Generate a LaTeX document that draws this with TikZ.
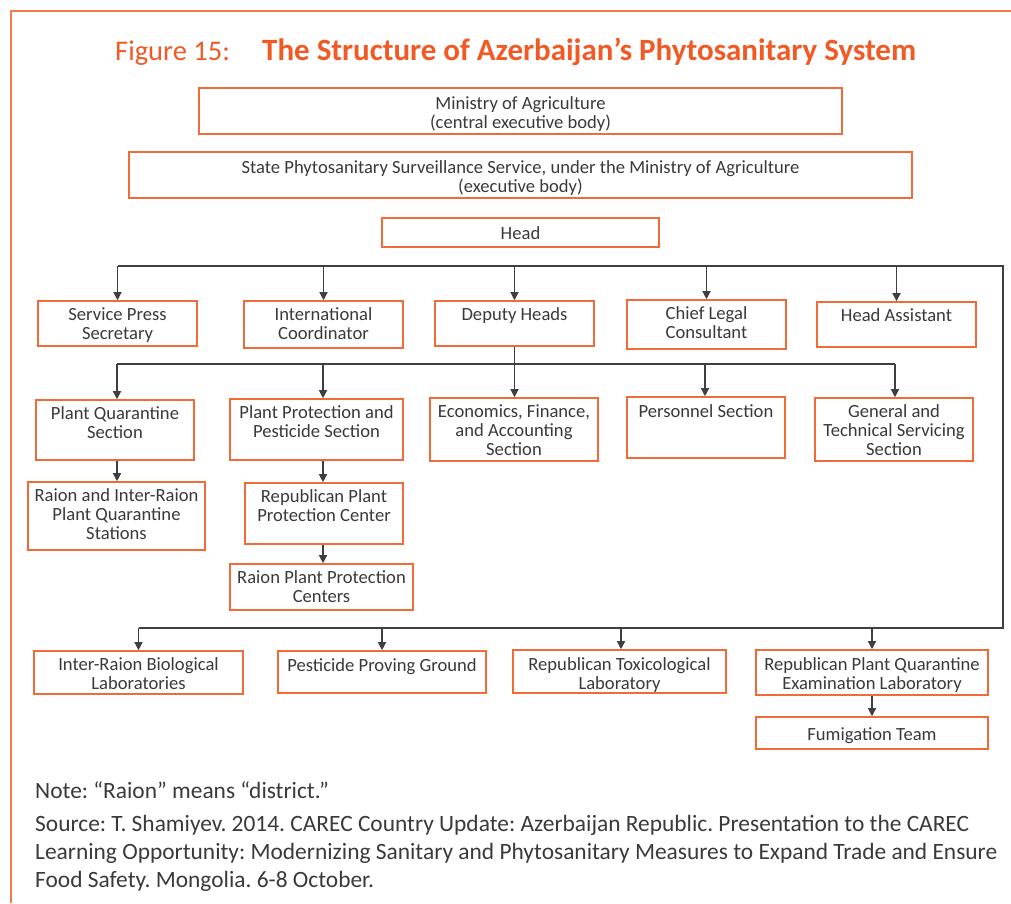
\documentclass[tikz,border=0pt]{standalone}
\usepackage{fontspec}
\setmainfont{Carlito}
\usetikzlibrary{arrows.meta}
\frenchspacing
\definecolor{orng}{HTML}{F26A35}
\definecolor{frm}{HTML}{F47B4B}
\definecolor{ttl}{HTML}{F15A24}
\definecolor{txt}{HTML}{3A3A3A}
\definecolor{ln}{HTML}{3F3F3F}
\newcommand\obox[7]{%
  \node[box,minimum width={(#4-#2)*1pt},minimum height={(#5-#3)*1pt}] (#1) at ({(#2+#4)/2},{(#3+#5)/2}) {};
  \node[btxt,anchor=north] (#1t) at ([yshift=-#6pt]#1.north) {#7};}
\begin{document}
\begin{tikzpicture}[x=1pt,y=-1pt,
  box/.style={draw=orng,line width=1.6pt,inner sep=0pt},
  btxt/.style={font=\fontsize{18.6}{19}\selectfont,text=txt,align=center,inner sep=0pt},
  link/.style={draw=ln,line width=1.3pt},
  arr/.style={link,-{Triangle[length=8pt,width=8pt]}},
  frame/.style={draw=frm,line width=1.5pt},
  note/.style={font=\fontsize{23.4}{28}\selectfont,text=txt,inner sep=0pt,anchor=base west}]
\useasboundingbox (0,0) rectangle (1011,903);
\fill[white] (0,0) rectangle (1011,903);
\draw[frame] (11,903) -- (11,11) -- (1011,11);
% title
\node[font=\fontsize{28.5}{30}\selectfont,text=ttl,inner sep=0pt,anchor=base west] (fig) at (115,60) {Figure 15:};
\node[font=\fontsize{31}{33}\selectfont\bfseries,text=ttl,inner sep=0pt,anchor=base west] (title) at (262,60) {The Structure of Azerbaijan’s Phytosanitary System};
% top boxes
\obox{min}{199}{88}{842}{134}{9.5}{Ministry of Agriculture\\(central executive body)}
\obox{state}{129}{152}{912}{198}{9.5}{State Phytosanitary Surveillance Service, under the Ministry of Agriculture\\(executive body)}
\obox{head}{382}{218}{659}{247}{9.5}{Head}
% row 2
\obox{sps}{38}{301}{197}{346}{7.5}{Service Press\\Secretary}
\obox{ic}{244}{301}{403}{348}{7.5}{International\\Coordinator}
\obox{dh}{435}{301}{594}{346}{7.5}{Deputy Heads}
\obox{clc}{627}{300}{786}{349}{7.5}{Chief Legal\\Consultant}
\obox{ha}{817}{302}{976}{347}{7.5}{Head Assistant}
% row 3
\obox{pqs}{36}{400}{194}{460}{7.5}{Plant Quarantine\\Section}
\obox{pps}{230}{399}{403}{460}{7}{Plant Protection and\\Pesticide Section}
\obox{efa}{430}{398}{598}{461}{7.5}{Economics, Finance,\\and Accounting\\Section}
\obox{ps}{627}{397}{785}{458}{8.5}{Personnel Section}
\obox{gts}{815}{398}{973}{461}{7.5}{General and\\Technical Servicing\\Section}
% row 4
\obox{rips}{28}{482}{205}{550}{7.5}{Raion and Inter-Raion\\Plant Quarantine\\Stations}
\obox{rppc}{245}{483}{403}{544}{7}{Republican Plant\\Protection Center}
\obox{rppcs}{230}{564}{413}{610}{7.5}{Raion Plant Protection\\Centers}
% row 5
\obox{irbl}{34}{651}{243}{694}{7.5}{Inter-Raion Biological\\Laboratories}
\obox{ppg}{278}{651}{486}{693}{8.5}{Pesticide Proving Ground}
\obox{rtl}{513}{650}{726}{693}{8.5}{Republican Toxicological\\Laboratory}
\obox{rpqel}{756}{650}{988}{695}{8.5}{Republican Plant Quarantine\\Examination Laboratory}
\obox{ft}{756}{717}{988}{749}{11.5}{Fumigation Team}
% bus coordinates
\coordinate (b1L) at (117.5,266);
\coordinate (b1R) at (1003,266);
\coordinate (b3R) at (1003,628);
\coordinate (b3L) at (138.5,628);
\coordinate (b2L) at (117,364);
\coordinate (b2R) at (895,364);
\coordinate (x323) at (323,364);
\coordinate (x705) at (705,364);
\coordinate (x621) at (621,628);
% main bus
\draw[link] (b1L) -- (b1R) -- (b3R) -- (b3L);
\draw[arr] (b1L) -- (sps.north);
\draw[arr] (ic.north |- b1L) -- (ic.north);
\draw[arr] (dh.north |- b1L) -- (dh.north);
\draw[arr] (clc.north |- b1L) -- (clc.north);
\draw[arr] (ha.north |- b1L) -- (ha.north);
% deputy bus
\draw[link] (b2L) -- (b2R);
\draw[arr] (dh.south) -- (dh.south |- efa.north);
\draw[arr] (b2L) -- (b2L |- pqs.north);
\draw[arr] (x323) -- (x323 |- pps.north);
\draw[arr] (x705) -- (x705 |- ps.north);
\draw[arr] (b2R) -- (b2R |- gts.north);
% sub chains
\draw[arr] (b2L |- pqs.south) -- (b2L |- rips.north);
\draw[arr] (x323 |- pps.south) -- (x323 |- rppc.north);
\draw[arr] (x323 |- rppc.south) -- (x323 |- rppcs.north);
% bottom bus arrows
\draw[arr] (b3L) -- (irbl.north);
\draw[arr] (ppg.north |- b3L) -- (ppg.north);
\draw[arr] (x621) -- (x621 |- rtl.north);
\draw[arr] (rpqel.north |- b3L) -- (rpqel.north);
\draw[arr] (rpqel.south) -- (ft.north);
% notes
\node[note] (n1) at (35,798) {Note: “Raion” means “district.”};
\node[note] (n2) at (35,831) {Source: T. Shamiyev. 2014. CAREC Country Update: Azerbaijan Republic. Presentation to the CAREC};
\node[note] (n3) at (35,859) {Learning Opportunity: Modernizing Sanitary and Phytosanitary Measures to Expand Trade and Ensure};
\node[note] (n4) at (35,887) {Food Safety. Mongolia. 6-8 October.};
\end{tikzpicture}
\end{document}
